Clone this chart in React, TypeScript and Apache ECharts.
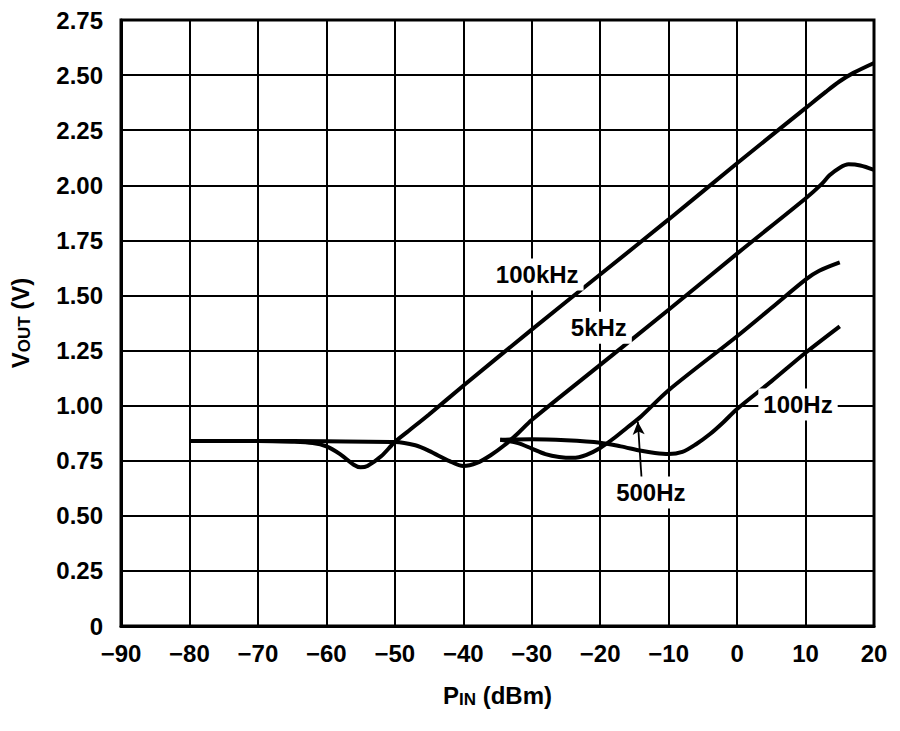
import React, { useEffect, useRef } from "react";
import * as echarts from "echarts";

const xTicks = { min: -90, max: 20, step: 10 };
const yTicks = { min: 0, max: 2.75, step: 0.25 };

const s100kHz: [number, number][] = [
  [-80, 0.84], [-70, 0.84], [-65, 0.836], [-62, 0.83], [-60, 0.815], [-58, 0.78],
  [-56, 0.732], [-55, 0.72], [-54, 0.726], [-52, 0.77], [-50, 0.835], [-48, 0.885],
  [-45, 0.96], [-40, 1.09], [-30, 1.345], [-20, 1.595], [-10, 1.845], [0, 2.1],
  [10, 2.35], [13, 2.425], [15, 2.472], [17, 2.51], [20, 2.555],
];

const s5kHz: [number, number][] = [
  [-80, 0.84], [-70, 0.84], [-60, 0.838], [-50, 0.835], [-47, 0.82], [-45, 0.795],
  [-42, 0.748], [-40, 0.726], [-38, 0.74], [-36, 0.775], [-34, 0.82], [-32, 0.875],
  [-30, 0.935], [-20, 1.185], [-10, 1.435], [0, 1.69], [10, 1.94], [12.3, 2.004],
  [13.5, 2.045], [15, 2.08], [16.3, 2.095], [18, 2.09], [20, 2.07],
];

const s500Hz: [number, number][] = [
  [-34.6, 0.845], [-32, 0.83], [-30, 0.805], [-28, 0.78], [-26, 0.767], [-24, 0.763],
  [-22, 0.777], [-20, 0.808], [-18, 0.852], [-16, 0.902], [-14, 0.952], [-10, 1.07],
  [0, 1.315], [5, 1.443], [10, 1.572], [12, 1.612], [15, 1.65],
];

const s100Hz: [number, number][] = [
  [-34.6, 0.845], [-30, 0.848], [-25, 0.843], [-20, 0.832], [-17, 0.815], [-14, 0.795],
  [-12, 0.785], [-10, 0.78], [-8, 0.79], [-6, 0.825], [-4, 0.87], [-2, 0.925],
  [0, 0.985], [5, 1.11], [10, 1.24], [15, 1.36],
];

const seriesNames = ["100kHz", "5kHz", "500Hz", "100Hz"];
const seriesData = [s100kHz, s5kHz, s500Hz, s100Hz];

const annotations = [
  { text: "100kHz", x: -29.2, y: 1.595 },
  { text: "5kHz", x: -20.2, y: 1.354 },
  { text: "100Hz", x: 8.9, y: 1.005 },
  { text: "500Hz", x: -12.6, y: 0.606 },
];

const arrowFrom: [number, number] = [-13.96, 0.672];
const arrowTo: [number, number] = [-14.5, 0.927];

const FONT = "'Liberation Sans', Arial, Helvetica, sans-serif";

export default function App() {
  const ref = useRef<HTMLDivElement>(null);
  useEffect(() => {
    if (!ref.current) return;
    const chart = echarts.init(ref.current, undefined, { renderer: "svg" });
    const series: any[] = seriesData.map((d, i) => ({
      name: seriesNames[i],
      type: "line",
      data: d,
      showSymbol: false,
      smooth: 0.3,
      lineStyle: { color: "#000", width: 4 },
      z: 3,
      ...(seriesNames[i] === "500Hz"
        ? {
            markLine: {
              silent: true,
              animation: false,
              symbol: ["none", "arrow"],
              symbolSize: [9, 13],
              label: { show: false },
              lineStyle: { color: "#000", width: 1.8, type: "solid" },
              data: [[{ coord: arrowFrom }, { coord: arrowTo }]],
            },
          }
        : {}),
    }));
    const rich = {
      m: { fontFamily: FONT, fontWeight: "bold", fontSize: 24, color: "#000", lineHeight: 26 },
      s: { fontFamily: FONT, fontWeight: "bold", fontSize: 17, color: "#000", lineHeight: 12, verticalAlign: "bottom" },
    };
    chart.setOption({
      animation: false,
      backgroundColor: "#fff",
      grid: { left: 117.5, right: 26, top: 20, bottom: 105, show: false },
      xAxis: {
        type: "value",
        min: xTicks.min,
        max: xTicks.max,
        interval: xTicks.step,
        name: "{m|P}{s|IN}{m| (dBm)}",
        nameLocation: "middle",
        nameGap: 56,
        nameTextStyle: { rich },
        axisLine: { show: true, onZero: false, lineStyle: { color: "#000", width: 3 } },
        axisTick: { show: false },
        splitLine: { show: true, lineStyle: { color: "#000", width: 2 } },
        axisLabel: {
          margin: 15,
          color: "#000",
          fontFamily: FONT,
          fontWeight: "bold",
          fontSize: 24,
          formatter: (v: number) => (v < 0 ? "\u2212" + Math.abs(v) : String(v)),
        },
      },
      yAxis: {
        type: "value",
        min: yTicks.min,
        max: yTicks.max,
        interval: yTicks.step,
        name: "{m|V}{s|OUT}{m| (V)}",
        nameLocation: "middle",
        nameGap: 88,
        nameTextStyle: { rich },
        axisLine: { show: true, onZero: false, lineStyle: { color: "#000", width: 3 } },
        axisTick: { show: false },
        splitLine: { show: true, lineStyle: { color: "#000", width: 2 } },
        axisLabel: {
          margin: 18,
          color: "#000",
          fontFamily: FONT,
          fontWeight: "bold",
          fontSize: 24,
          formatter: (v: number) => (v === 0 ? "0" : v.toFixed(2)),
        },
      },
      series,
    });
    const tl = chart.convertToPixel({ gridIndex: 0 }, [xTicks.min, yTicks.max]) as number[];
    const br = chart.convertToPixel({ gridIndex: 0 }, [xTicks.max, yTicks.min]) as number[];
    const graphics: any[] = [
      {
        type: "rect",
        shape: { x: tl[0], y: tl[1], width: br[0] - tl[0], height: br[1] - tl[1] },
        style: { fill: "none", stroke: "#000", lineWidth: 3 },
        z: 50,
        silent: true,
      },
    ];
    annotations.forEach((a) => {
      const p = chart.convertToPixel({ gridIndex: 0 }, [a.x, a.y]) as number[];
      graphics.push({
        type: "text",
        x: p[0],
        y: p[1],
        z: 60,
        silent: true,
        style: {
          text: a.text,
          font: `bold 24px ${FONT}`,
          fill: "#000",
          align: "center",
          verticalAlign: "middle",
          backgroundColor: "#fff",
          padding: [4, 5, 4, 5],
        },
      });
    });
    chart.setOption({ graphic: graphics });
    return () => chart.dispose();
  }, []);
  return (
    <div
      ref={ref}
      style={{ position: "fixed", left: 0, top: 0, width: 900, height: 731, background: "#fff" }}
    />
  );
}
